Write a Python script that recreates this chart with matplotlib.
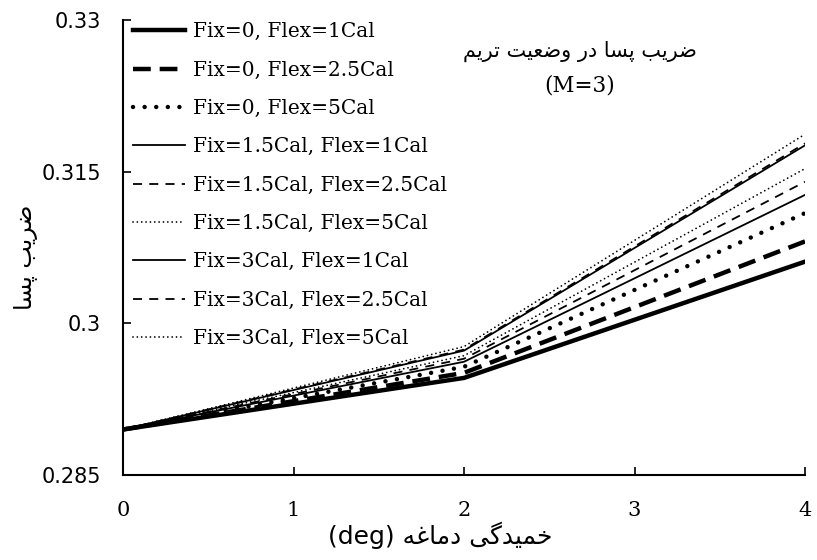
import matplotlib
matplotlib.use("Agg")
import matplotlib.pyplot as plt

# ── data ──────────────────────────────────────────────────────────────────
camber_deg = [0, 2, 4]

fix0_flex1 = [0.2895, 0.2946, 0.3061]
fix0_flex25 = [0.2895, 0.2951, 0.3081]
fix0_flex5 = [0.2895, 0.2957, 0.3109]
fix15_flex1 = [0.2895, 0.2962, 0.3127]
fix15_flex25 = [0.2895, 0.2965, 0.3140]
fix15_flex5 = [0.2895, 0.2968, 0.3153]
fix3_flex1 = [0.2895, 0.2973, 0.3176]
fix3_flex25 = [0.2895, 0.2974, 0.3178]
fix3_flex5 = [0.2895, 0.2977, 0.3187]

labels = [
    "Fix=0, Flex=1Cal",
    "Fix=0, Flex=2.5Cal",
    "Fix=0, Flex=5Cal",
    "Fix=1.5Cal, Flex=1Cal",
    "Fix=1.5Cal, Flex=2.5Cal",
    "Fix=1.5Cal, Flex=5Cal",
    "Fix=3Cal, Flex=1Cal",
    "Fix=3Cal, Flex=2.5Cal",
    "Fix=3Cal, Flex=5Cal",
]
series = [fix0_flex1, fix0_flex25, fix0_flex5,
          fix15_flex1, fix15_flex25, fix15_flex5,
          fix3_flex1, fix3_flex25, fix3_flex5]

y_ticks = [0.285, 0.3, 0.315, 0.33]
y_tick_labels = ["0.285", "0.3", "0.315", "0.33"]
x_ticks = [0, 1, 2, 3, 4]

title_fa = "ضریب پسا در وضعیت تریم"
title_sub = "(M=3)"
ylabel_fa = "ضریب پسا"
xlabel_fa = "خمیدگی دماغه"
xlabel_unit = "(deg)"


# ── tiny Persian shaper (matplotlib has no Arabic shaping / RTL) ─────────
# char: (isolated, final, initial, medial); None -> right-joining only
FORMS = {
    "ا": ("\uFE8D", "\uFE8E", None, None),
    "ب": ("\uFE8F", "\uFE90", "\uFE91", "\uFE92"),
    "ت": ("\uFE95", "\uFE96", "\uFE97", "\uFE98"),
    "خ": ("\uFEA5", "\uFEA6", "\uFEA7", "\uFEA8"),
    "د": ("\uFEA9", "\uFEAA", None, None),
    "ر": ("\uFEAD", "\uFEAE", None, None),
    "س": ("\uFEB1", "\uFEB2", "\uFEB3", "\uFEB4"),
    "ض": ("\uFEBD", "\uFEBE", "\uFEBF", "\uFEC0"),
    "ع": ("\uFEC9", "\uFECA", "\uFECB", "\uFECC"),
    "غ": ("\uFECD", "\uFECE", "\uFECF", "\uFED0"),
    "م": ("\uFEE1", "\uFEE2", "\uFEE3", "\uFEE4"),
    "ه": ("\uFEE9", "\uFEEA", "\uFEEB", "\uFEEC"),
    "و": ("\uFEED", "\uFEEE", None, None),
    "ی": ("\uFBFC", "\uFBFD", "\uFBFE", "\uFBFF"),
    "پ": ("\uFB56", "\uFB57", "\uFB58", "\uFB59"),
    "گ": ("\uFB92", "\uFB93", "\uFB94", "\uFB95"),
}


def fa(text):
    out = []
    for i, ch in enumerate(text):
        if ch not in FORMS:
            out.append(ch)
            continue
        prev = text[i - 1] if i > 0 else ""
        nxt = text[i + 1] if i + 1 < len(text) else ""
        join_prev = prev in FORMS and FORMS[prev][2] is not None
        join_next = FORMS[ch][2] is not None and nxt in FORMS
        iso, fin, ini, med = FORMS[ch]
        if join_prev and join_next:
            out.append(med)
        elif join_prev:
            out.append(fin)
        elif join_next:
            out.append(ini)
        else:
            out.append(iso)
    return "".join(out)[::-1]


# ── styles ────────────────────────────────────────────────────────────────
thick = 3.2
thin = 1.3
styles = [
    dict(lw=thick, ls="-"),
    dict(lw=thick, ls=(0, (4, 2))),
    dict(lw=thick, ls=(0, (0.01, 2.6)), dash_capstyle="round"),
    dict(lw=thin, ls="-"),
    dict(lw=thin, ls=(0, (5, 4))),
    dict(lw=thin, ls=(0, (0.01, 2.4)), dash_capstyle="round"),
    dict(lw=thin, ls="-"),
    dict(lw=thin, ls=(0, (5, 4))),
    dict(lw=thin, ls=(0, (0.01, 2.4)), dash_capstyle="round"),
]

fig = plt.figure(figsize=(8.17, 5.6), dpi=100)
ax = fig.add_axes([0.1506, 0.1518, 0.8347, 0.8125])

for vals, lab, st in zip(series, labels, styles):
    ax.plot(camber_deg, vals, color="black", label=lab, **st)

ax.set_xlim(0, 4)
ax.set_ylim(0.285, 0.33)
ax.set_xticks(x_ticks)
ax.set_xticklabels([str(t) for t in x_ticks], family="DejaVu Serif", fontsize=15)
ax.set_yticks(y_ticks)
ax.set_yticklabels(y_tick_labels, family="DejaVu Sans", fontsize=15)
ax.tick_params(direction="in", length=6, width=1.2)
ax.tick_params(axis="y", pad=16)
ax.tick_params(axis="x", pad=19)
for s in ("top", "right"):
    ax.spines[s].set_visible(False)
for s in ("left", "bottom"):
    ax.spines[s].set_linewidth(1.5)

ax.text(0.67, 0.932, fa(title_fa), transform=ax.transAxes, ha="center",
        va="center", fontsize=15, family="DejaVu Sans")
ax.text(0.67, 0.855, title_sub, transform=ax.transAxes, ha="center",
        va="center", fontsize=15.5, family="DejaVu Serif")

fig.text(440 / 817, 1 - 535 / 560, xlabel_unit + " " + fa(xlabel_fa),
         ha="center", va="center", fontsize=18, family="DejaVu Sans")
fig.text(26 / 817, 1 - 257 / 560, fa(ylabel_fa), rotation=90,
         ha="center", va="center", fontsize=17, family="DejaVu Sans")

leg = ax.legend(loc="upper left", frameon=False,
                prop=dict(family="DejaVu Serif", size=14.5),
                handlelength=2.6, handletextpad=0.35, labelspacing=0.96,
                borderaxespad=0.1, bbox_to_anchor=(0.0, 1.017))

fig.savefig("out.png", dpi=100)
